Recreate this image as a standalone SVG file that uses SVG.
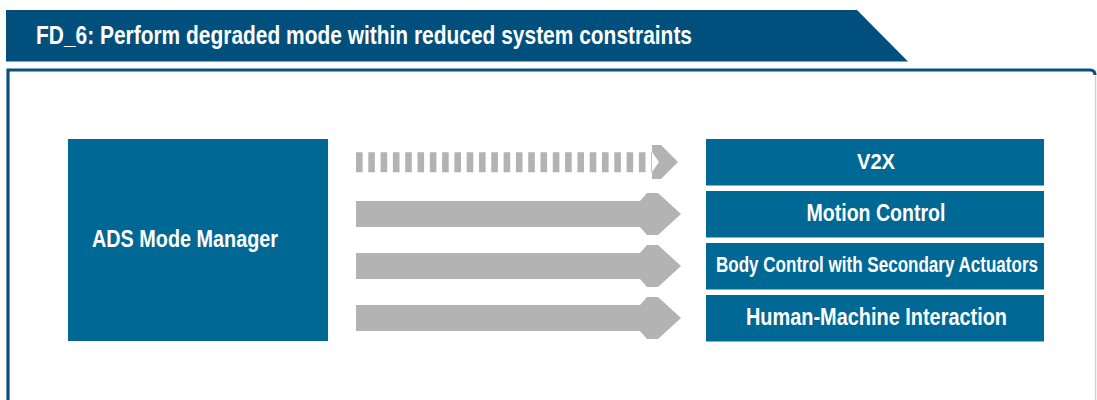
<svg xmlns="http://www.w3.org/2000/svg" width="1097" height="400" viewBox="0 0 1097 400">
<style>
.box{fill:#006894}
.lbl{font-family:"Liberation Sans",Arial,sans-serif;font-weight:bold;fill:#ffffff}
.arr{fill:#b3b3b3}
</style>
<rect width="1097" height="400" fill="#ffffff"/>
<g id="title">
<polygon points="6,10 857,10 908,61.5 6,61.5" fill="#004f7c"/>
<text class="lbl" x="36" y="43.5" font-size="26" textLength="656" lengthAdjust="spacingAndGlyphs">FD_6: Perform degraded mode within reduced system constraints</text>
</g>
<g id="frame">
<path d="M8,402 V70 H1090 Q1095,70 1095,75" fill="none" stroke="#0b4f7c" stroke-width="3.2"/>
<line x1="1095.5" y1="76" x2="1095.5" y2="402" stroke="#c5d6e0" stroke-width="1.5"/>
</g>
<g id="ads-mode-manager">
<rect class="box" x="68" y="139" width="260" height="202"/>
<text class="lbl" x="92" y="247" font-size="23.5" textLength="186" lengthAdjust="spacingAndGlyphs">ADS Mode Manager</text>
</g>
<g id="v2x">
<rect class="box" x="706" y="139" width="338" height="46.5"/>
<text class="lbl" x="876" y="168.5" font-size="22" text-anchor="middle" textLength="38" lengthAdjust="spacingAndGlyphs">V2X</text>
</g>
<g id="motion-control">
<rect class="box" x="706" y="191" width="338" height="46.5"/>
<text class="lbl" x="876" y="221" font-size="23.5" text-anchor="middle" textLength="139" lengthAdjust="spacingAndGlyphs">Motion Control</text>
</g>
<g id="body-control">
<rect class="box" x="706" y="243" width="338" height="46.5"/>
<text class="lbl" x="877" y="272" font-size="22" text-anchor="middle" textLength="322" lengthAdjust="spacingAndGlyphs">Body Control with Secondary Actuators</text>
</g>
<g id="hmi">
<rect class="box" x="706" y="295" width="338" height="46.5"/>
<text class="lbl" x="876.5" y="325" font-size="23.5" text-anchor="middle" textLength="261" lengthAdjust="spacingAndGlyphs">Human-Machine Interaction</text>
</g>
<g id="connectors">
<line x1="356" y1="162.3" x2="652" y2="162.3" stroke="#b3b3b3" stroke-width="20" stroke-dasharray="6.6 5.7"/>
<polygon class="arr" points="652,145 661,145 678,162 661,179 652,179 652,172 659,162 652,152"/>
<polygon class="arr" points="356,201 640,201 647,193 658,193 681,214 658,235 647,235 640,227 356,227"/>
<polygon class="arr" points="356,253 640,253 647,245 658,245 681,266 658,287 647,287 640,279 356,279"/>
<polygon class="arr" points="356,305 640,305 647,297 658,297 681,318 658,339 647,339 640,331 356,331"/>
</g>
</svg>
